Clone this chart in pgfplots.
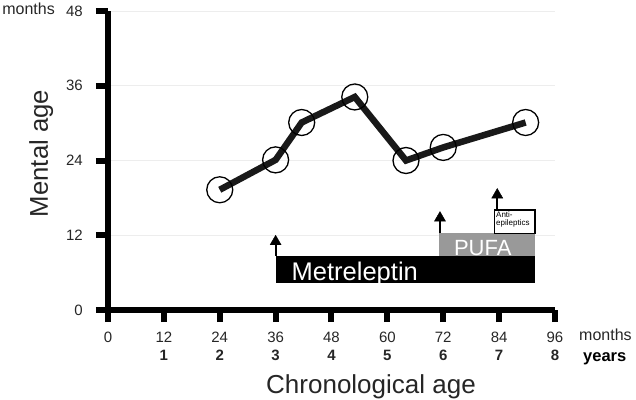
\documentclass[border=0pt]{standalone}
\usepackage{fontspec}
\setmainfont{Liberation Sans}
\usepackage{pgfplots}
\pgfplotsset{compat=1.18}
\begin{document}
\begin{tikzpicture}
\begin{axis}[
  at={(0,0)}, anchor=south west,
  scale only axis, width=447bp, height=299bp,
  xmin=0, xmax=96, ymin=0, ymax=48,
  axis x line=bottom, axis y line=left,
  axis line style={-, line width=6bp, black},
  xtick={0,12,...,96},
  xticklabels={0\\\phantom{\textbf{0}},12\\\textbf{1},24\\\textbf{2},36\\\textbf{3},48\\\textbf{4},60\\\textbf{5},72\\\textbf{6},84\\\textbf{7},96\\\textbf{8}},
  ytick={0,12,24,36,48},
  /pgf/number format/assume math mode=true,
  major tick length=12bp, tick align=outside,
  tick style={black, line width=6bp},
  ymajorgrids, major grid style={line width=0.8bp, black!7},
  ticklabel style={font=\fontsize{15bp}{18bp}\selectfont, text=black!85},
  xticklabel style={anchor=base, align=center, inner sep=0pt, yshift=-38bp},
  yticklabel style={anchor=east, inner sep=0pt, xshift=-13bp},
  clip=false,
]
% treatment bars
\addplot[fill=black, draw=none] coordinates {(36,4.4) (91.7,4.4) (91.7,8.7) (36,8.7)} -- cycle;
\addplot[fill=black!40, draw=none] coordinates {(71,8.7) (91.7,8.7) (91.7,12.3) (71,12.3)} -- cycle;
\addplot[fill=white, draw=black, line width=1.5bp] coordinates {(83,12.3) (91.7,12.3) (91.7,16.05) (83,16.05)} -- cycle;
% arrow shafts and heads
\addplot[black, line width=2bp, mark=none] coordinates {(36,8.7) (36,11)};
\addplot[black, line width=2bp, mark=none] coordinates {(71.3,12.3) (71.3,14.8)};
\addplot[black, line width=2bp, mark=none] coordinates {(83.6,16.05) (83.6,18.5)};
\addplot[only marks, mark=triangle*, mark size=6.35bp, mark options={fill=black, draw=black, line width=0.4bp}]
  coordinates {(36,10.98) (71.3,14.78) (83.6,18.48)};
% mental age
\addplot[black!90, line width=6.5bp, line join=miter, mark=o, mark size=13bp,
  mark options={line width=1.3bp, fill=none, solid, black}]
  coordinates {(24,19.3) (36,24.1) (41.6,30.1) (53,34.2) (64,24) (72,26.1) (89.7,30.1)};
\end{axis}
\node[white, anchor=base, inner sep=0pt, font=\fontsize{25.5bp}{30bp}\selectfont] at (246.8bp,29.9bp) {Metreleptin};
\node[white, anchor=base, inner sep=0pt, font=\fontsize{22bp}{26bp}\selectfont] at (374.8bp,54.8bp) {PUFA};
\node[anchor=north west, align=left, inner sep=1.5bp, font=\fontsize{8bp}{8.5bp}\selectfont] at (386.5bp,100bp) {Anti-\\epileptics};
\node[anchor=base east, inner sep=0pt, font=\fontsize{16bp}{19bp}\selectfont, text=black!85] at (-53bp,295bp) {months};
\node[anchor=base west, inner sep=0pt, font=\fontsize{16bp}{19bp}\selectfont, text=black!85] at (471bp,-30bp) {months};
\node[anchor=base west, inner sep=0pt, font=\fontsize{16.5bp}{19bp}\selectfont\bfseries] at (475bp,-51.7bp) {years};
\node[rotate=90, anchor=base, inner sep=0pt, font=\fontsize{25.7bp}{30bp}\selectfont, text=black!85] at (-60bp,156.5bp) {Mental age};
\node[anchor=base, inner sep=0pt, font=\fontsize{26bp}{30bp}\selectfont, text=black!85] at (263bp,-83bp) {Chronological age};
\pgfresetboundingbox
\path (-108bp,-90bp) rectangle (528bp,310bp);
\end{tikzpicture}
\end{document}
